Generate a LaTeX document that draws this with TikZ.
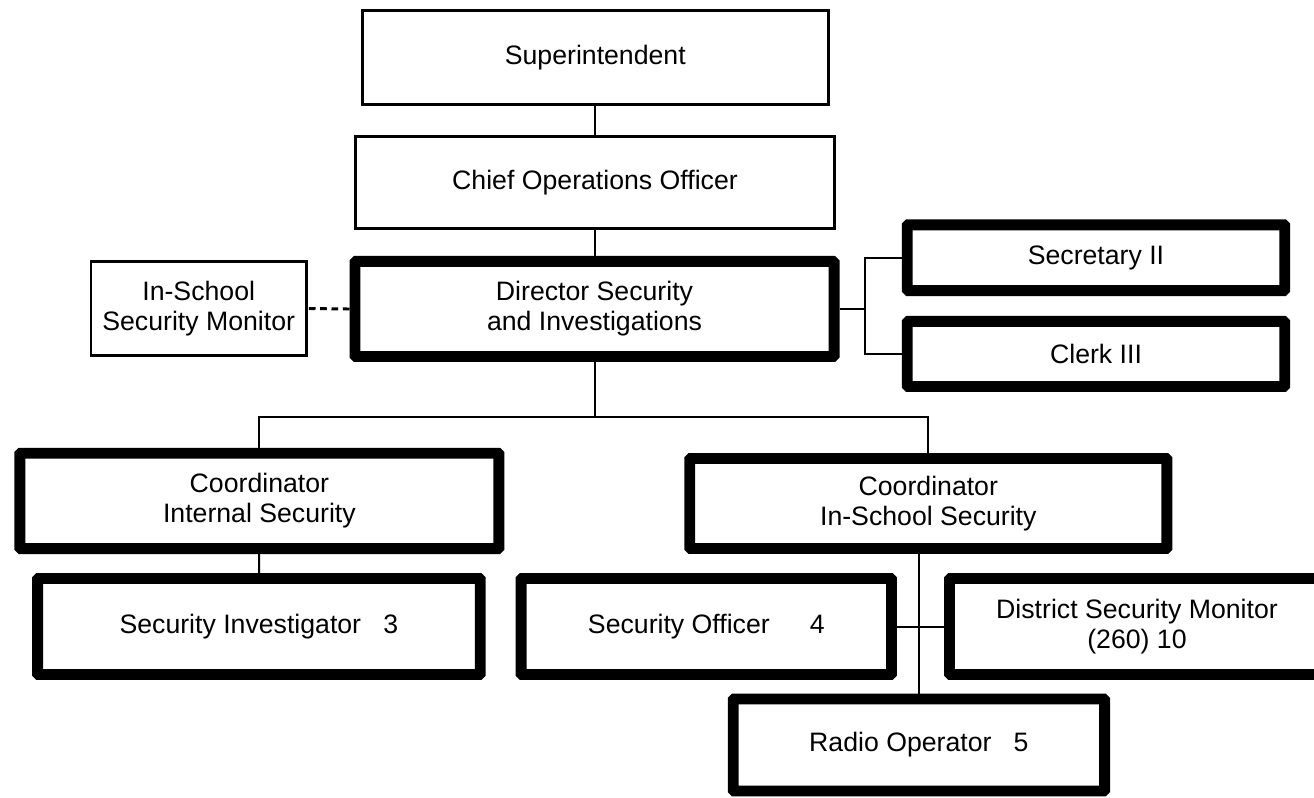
\documentclass[tikz,border=0pt]{standalone}
\usepackage{fontspec}
\setmainfont{Liberation Sans}
\usetikzlibrary{positioning}

\begin{document}
\begin{tikzpicture}[x=0.75pt,y=-0.75pt,
    thinbox/.style={draw,line width=2.2pt,align=center,inner sep=0pt,
                    font=\fontsize{20}{22.5}\selectfont},
    thickbox/.style={draw,line width=8.2pt,rounded corners=0.8pt,align=center,inner sep=0pt,
                     font=\fontsize{20}{22.5}\selectfont},
    link/.style={line width=1.5pt}]
                \useasboundingbox (0,0) rectangle (1314,798);

                \node[thinbox,  minimum width=349.7pt, minimum height=70.3pt] (super)     at (595.3,57.7)  {Superintendent};
                \node[thinbox,  minimum width=359.3pt, minimum height=69pt]   (chief)     at (595,182.5)   {Chief Operations Officer};
                \node[thinbox,  minimum width=161.6pt, minimum height=70.5pt] (monitor)   at (198.7,308.5) {In-School\\Security Monitor};
                \node[thickbox, minimum width=359.3pt, minimum height=71.3pt] (director)  at (594.5,309)   {Director Security\\and Investigations};

                \node[thickbox, minimum width=283.1pt, minimum height=49.3pt] (secretary) at (1096,257.7)  {Secretary II};
                \node[thickbox, minimum width=283.1pt, minimum height=48.8pt] (clerk)     at (1096,354)    {Clerk III};

                \node[thickbox, minimum width=359.3pt, minimum height=71.5pt] (coordint)  at (259.4,500.9) {Coordinator\\Internal Security};
                \node[thickbox, minimum width=357.8pt, minimum height=67.5pt] (coordsch)  at (928.3,503.5) {Coordinator\\In-School Security};

                \node[thickbox, minimum width=332pt,   minimum height=72pt]   (investig)  at (258.9,626.5) {Security Investigator~~~3};
                \node[thickbox, minimum width=277.8pt, minimum height=72pt]   (officer)   at (706.3,626.5) {Security Officer\hspace{1.5em}4};
                \node[thickbox, minimum width=281.3pt, minimum height=72pt]   (district)  at (1137,626.5)  {District Security Monitor\\(260) 10};
                \node[thickbox, minimum width=278.5pt, minimum height=69pt]   (radio)     at (918.9,745)   {Radio Operator~~~5};

                \coordinate (bracket) at (864.5,309);
                \coordinate (split)   at (595,416.7);

                \draw[link] (super.south) -- (super.south |- chief.north);
                \draw[link] (chief.south) -- (chief.south |- director.north);
                \draw[line width=2.2pt, dash pattern=on 5pt off 3.5pt] (director.west) -- (monitor.east);
                \draw[link] (director.east) -- (bracket);
                \draw[link] (secretary.west) -| (bracket) |- (clerk.west);
                \draw[link] (director.south) -- (director.south |- split);
                \draw[link] (coordint.north) |- (split) -| (coordsch.north);
                \draw[link] (coordint) -- (investig);
                \draw[link] (radio.north |- coordsch.south) -- (radio.north);
                \draw[link] (officer.east) -- (district.west);
\end{tikzpicture}
\end{document}
